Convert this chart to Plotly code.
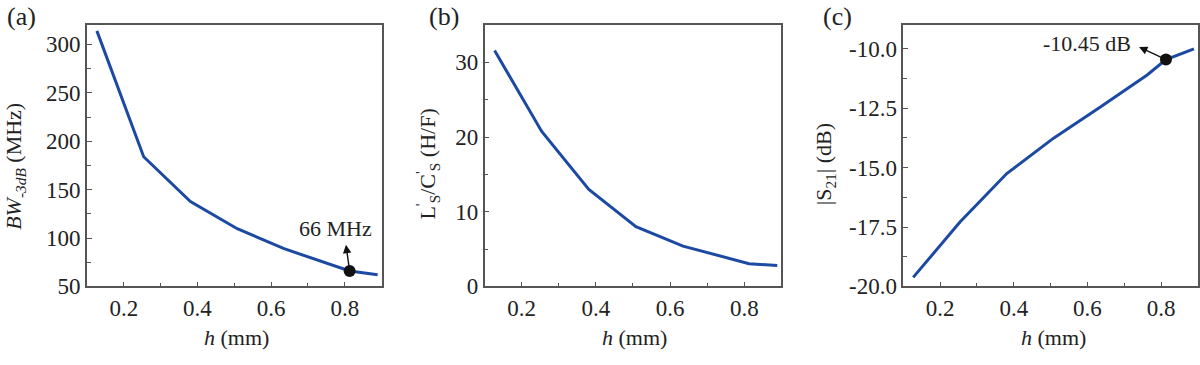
import plotly.graph_objects as go

# ---- data ----
h_mm = [0.127, 0.254, 0.381, 0.508, 0.635, 0.762, 0.813, 0.889]
bw_3db = [314, 184, 137.6, 109.6, 89, 73, 66, 62]
ls_cs = [31.6, 20.75, 13.0, 8.0, 5.4, 3.7, 3.05, 2.8]
s21_db = [-19.62, -17.29, -15.25, -13.76, -12.45, -11.1, -10.45, -10.0]

mark_h = [0.813]
mark_bw = [66]
mark_s21 = [-10.45]

W, H = 1200, 365
line_color = "#1c4aa3"
font_family = "Liberation Serif"
axis_col = "#555555"
txt_col = "#222222"
FS = 22
TFS = 23

fig = go.Figure()
fig.add_trace(go.Scatter(x=h_mm, y=bw_3db, mode="lines", line=dict(color=line_color, width=3), xaxis="x", yaxis="y"))
fig.add_trace(go.Scatter(x=mark_h, y=mark_bw, mode="markers", marker=dict(color="#111", size=12), xaxis="x", yaxis="y"))
fig.add_trace(go.Scatter(x=h_mm, y=ls_cs, mode="lines", line=dict(color=line_color, width=3), xaxis="x2", yaxis="y2"))
fig.add_trace(go.Scatter(x=h_mm, y=s21_db, mode="lines", line=dict(color=line_color, width=3), xaxis="x3", yaxis="y3"))
fig.add_trace(go.Scatter(x=mark_h, y=mark_s21, mode="markers", marker=dict(color="#111", size=12), xaxis="x3", yaxis="y3"))

ydom = [(H - 297) / H, (H - 26) / H]
xdoms = [[87 / W, 382 / W], [485 / W, 782 / W], [904 / W, 1199 / W]]


def xax(dom, anchor):
    return dict(domain=dom, anchor=anchor, range=[0.1, 0.9], tickvals=[0.2, 0.4, 0.6, 0.8],
                ticktext=["0.2", "0.4", "0.6", "0.8"], ticks="inside", ticklen=5, tickwidth=1.2,
                tickcolor=axis_col, showline=True, linecolor=axis_col, linewidth=1.5, mirror=True,
                showgrid=False, zeroline=False,
                minor=dict(tickvals=[0.1, 0.3, 0.5, 0.7, 0.9], ticks="inside", ticklen=4, tickcolor=axis_col),
                tickfont=dict(family=font_family, size=TFS, color=txt_col))


def yax(dom, anchor, rng, tv, tt, mv):
    return dict(domain=dom, anchor=anchor, range=rng, tickvals=tv, ticktext=tt,
                ticks="inside", ticklen=5, tickwidth=1.2, tickcolor=axis_col,
                showline=True, linecolor=axis_col, linewidth=1.5, mirror=True,
                showgrid=False, zeroline=False,
                minor=dict(tickvals=mv, ticks="inside", ticklen=4, tickcolor=axis_col),
                tickfont=dict(family=font_family, size=TFS, color=txt_col))


fig.update_layout(
    width=W, height=H, margin=dict(l=0, r=0, t=0, b=0),
    paper_bgcolor="white", plot_bgcolor="white", showlegend=False,
    font=dict(family=font_family, size=FS, color=txt_col),
    xaxis=xax(xdoms[0], "y"),
    xaxis2=xax(xdoms[1], "y2"),
    xaxis3=xax(xdoms[2], "y3"),
    yaxis=yax(ydom, "x", [50, 320], [50, 100, 150, 200, 250, 300],
              ["50", "100", "150", "200", "250", "300"], [75, 125, 175, 225, 275]),
    yaxis2=yax(ydom, "x2", [0, 35], [0, 10, 20, 30], ["0", "10", "20", "30"], [5, 15, 25]),
    yaxis3=yax(ydom, "x3", [-20, -9], [-20, -17.5, -15, -12.5, -10],
               ["-20.0", "-17.5", "-15.0", "-12.5", "-10.0"], [-18.75, -16.25, -13.75, -11.25]),
)

ann = []
# arrows (head away from the marked point)
ann.append(dict(x=0.803, y=93, xref="x", yref="y", ax=mark_h[0], ay=mark_bw[0], axref="x", ayref="y",
                text="", showarrow=True, arrowhead=2, arrowsize=1.2, arrowwidth=1.4, arrowcolor="#111"))
ann.append(dict(x=0.74, y=-9.92, xref="x3", yref="y3", ax=mark_h[0], ay=mark_s21[0], axref="x3", ayref="y3",
                text="", showarrow=True, arrowhead=2, arrowsize=1.2, arrowwidth=1.4, arrowcolor="#111"))
ann.append(dict(x=0.774, y=110, xref="x", yref="y", text="66 MHz", showarrow=False,
                xanchor="center", yanchor="middle", font=dict(family=font_family, size=FS, color=txt_col)))
ann.append(dict(x=0.599, y=-9.76, xref="x3", yref="y3", text="-10.45 dB", showarrow=False,
                xanchor="center", yanchor="middle", font=dict(family=font_family, size=FS, color=txt_col)))
# panel labels
for xp, lab in [(22, "(a)"), (444, "(b)"), (838, "(c)")]:
    ann.append(dict(x=xp / W, y=1 - 17 / H, xref="paper", yref="paper", text=lab, showarrow=False,
                    xanchor="center", yanchor="middle", font=dict(family=font_family, size=26, color=txt_col)))
# x titles
for xp in [237, 635, 1054]:
    ann.append(dict(x=xp / W, y=1 - 350 / H, xref="paper", yref="paper", xanchor="center", yanchor="middle",
                    text="<i>h</i> (mm)", showarrow=False, font=dict(family=font_family, size=FS, color=txt_col)))
# y titles
ytitles = [(15, 172, "<i>BW</i><sub><i>-3dB</i></sub> (MHz)"),
           (428, 170, "L<sup>'</sup><sub>S</sub>/C<sup>'</sup><sub>S</sub> (H/F)"),
           (826, 170, "|S<sub>21</sub>| (dB)")]
for xp, yp, t in ytitles:
    ann.append(dict(x=xp / W, y=1 - yp / H, xref="paper", yref="paper", text=t, textangle=-90,
                    xanchor="center", yanchor="middle",
                    showarrow=False, font=dict(family=font_family, size=FS, color=txt_col)))
fig.update_layout(annotations=ann)

fig.write_html("out.html", config={"displayModeBar": False},
               post_script="document.body.style.margin='0';document.body.style.overflow='hidden';")
